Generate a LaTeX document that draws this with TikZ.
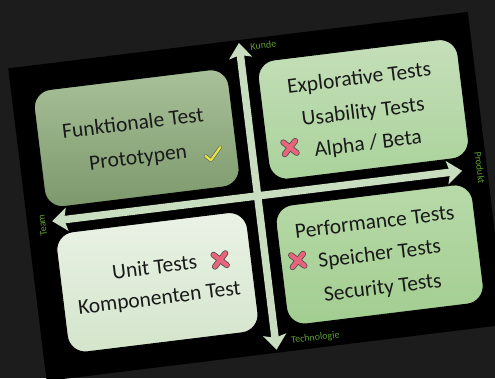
\documentclass[tikz,border=0pt]{standalone}
\usepackage{fontspec}
\setmainfont{Carlito}
\usetikzlibrary{arrows.meta}
\definecolor{bg}{HTML}{1C1C1C}
\definecolor{axisc}{HTML}{C9DDC0}
\definecolor{lblc}{HTML}{5E9E2C}
\definecolor{tlTop}{HTML}{A9C19A}
\definecolor{tlBot}{HTML}{7C986B}
\definecolor{trTop}{HTML}{C6DFBA}
\definecolor{trBot}{HTML}{A9D29A}
\definecolor{blTop}{HTML}{EBF2E6}
\definecolor{blBot}{HTML}{D3E5CB}
\definecolor{brTop}{HTML}{B8DAA9}
\definecolor{brBot}{HTML}{A2CD90}
\definecolor{txt}{HTML}{1A1A1A}
\definecolor{xpink}{HTML}{E8647A}
\definecolor{chk}{HTML}{E4E63C}
\begin{document}
\begin{tikzpicture}[x=1pt,y=-1pt,
  quad/.style={rounded corners=18pt, draw=black, line width=1pt},
  tline/.style={font=\fontsize{21.5}{24}\selectfont, text=txt, inner sep=0pt, anchor=base},
  lbl/.style={font=\fontsize{10}{12}\selectfont, text=lblc, inner sep=0pt},
  axis/.style={draw=axisc, line width=7.5pt,
    {Stealth[length=15pt,width=23pt,inset=3pt]}-{Stealth[length=15pt,width=23pt,inset=3pt]}},
  xmk/.pic={
    \draw[black!70, line width=6pt, line cap=round] (-6,-6) -- (6,6) (-6,6) -- (6,-6);
    \draw[xpink, line width=4.4pt, line cap=round] (-6,-6) -- (6,6) (-6,6) -- (6,-6);
  },
  chkmk/.pic={
    \draw[black!60, line width=3.6pt, line cap=round, line join=round] (-8,0) -- (-3,5) -- (8,-7);
    \draw[chk, line width=2.2pt, line cap=round, line join=round] (-8,0) -- (-3,5) -- (8,-7);
  }
  ]
\fill[bg] (0,0) rectangle (495,378);
\useasboundingbox (0,0) rectangle (495,378);
\begin{scope}[shift={(257,199)}, rotate=7, transform shape]
  \fill[black] (-231,-160) rectangle (232,155);
  % axes
  \coordinate (ktop) at (1,-157);
  \coordinate (kbot) at (1,152);
  \coordinate (kleft) at (-206,-3);
  \coordinate (kright) at (207,-3);
  \draw[axis] (kbot) -- (ktop);
  \draw[axis] (kleft) -- (kright);
  % quadrants
  \path[quad, top color=tlTop, bottom color=tlBot] (-210,-134) rectangle (-14,-16);
  \path[quad, top color=trTop, bottom color=trBot] (16,-136) rectangle (217,-16);
  \path[quad, top color=blTop, bottom color=blBot] (-205,10) rectangle (-13,131);
  \path[quad, top color=brTop, bottom color=brBot] (16,10) rectangle (214,130);
  % texts
  \node[tline] (f1) at (-114,-83.5) {Funktionale Test};
  \node[tline] (f2) at (-113,-49) {Prototypen};
  \pic at (-38,-49) {chkmk};
  \node[tline] (e1) at (116,-101) {Explorative Tests};
  \node[tline] (e2) at (116,-67) {Usability Tests};
  \node[tline] (e3) at (117,-35) {Alpha / Beta};
  \pic at (39,-47) {xmk};
  \node[tline] (u1) at (-110,62) {Unit Tests};
  \node[tline] (u2) at (-109,93) {Komponenten Test};
  \pic at (-44,56) {xmk};
  \node[tline] (p1) at (114,44) {Performance Tests};
  \node[tline] (p2) at (115,76) {Speicher Tests};
  \node[tline] (p3) at (114,110) {Security Tests};
  \pic at (33,66) {xmk};
  % axis labels
  \node[lbl] (lk) at (25,-152) {Kunde};
  \node[lbl] (lt) at (41,145) {Technologie};
  \node[lbl, rotate=-90] (lp) at (225,-4) {Produkt};
  \node[lbl, rotate=90] (lm) at (-216,0) {Team};
\end{scope}
\end{tikzpicture}
\end{document}
